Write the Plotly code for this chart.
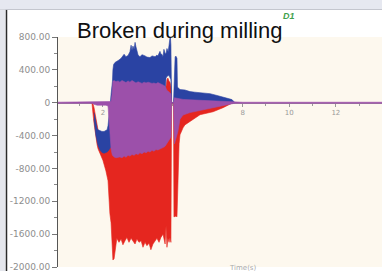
import plotly.graph_objects as go

# ---------------- data ----------------
# time axis in seconds, force values in N
y_ticks = [800, 400, 0, -400, -800, -1200, -1600, -2000]
y_tick_text = ["800.00", "400.00", "0", "-400.00", "-800.00", "-1200.00", "-1600.00", "-2000.00"]
x_ticks = [2, 4, 6, 8, 10, 12, 14]
x_tick_text = ["2", "4", "6", "8", "10", "12", "14"]

red_t = [1.53, 1.58, 1.62, 1.66, 1.70, 1.75, 1.79, 1.88, 2.00, 2.13, 2.22, 2.26, 2.30, 2.35, 2.39,
         2.43, 2.48, 2.52, 2.60, 2.69, 2.78, 2.86, 2.95, 3.03, 3.12, 3.21, 3.29, 3.38, 3.46, 3.55,
         3.64, 3.72, 3.81, 3.89, 3.98, 4.06, 4.15, 4.24, 4.32, 4.41, 4.49, 4.58, 4.67, 4.71, 4.75,
         4.79, 4.84, 4.88, 4.92, 4.95, 5.03, 5.05, 5.09, 5.14, 5.18, 5.22, 5.27, 5.31, 5.44, 5.52,
         5.74, 6.17, 6.73, 7.16, 7.58]
red_hi = [0, -20, -60, -130, -200, -270, -330, -380, -400, -400, -400, -400, -400, -400, -400,
          -400, -400, -400, -400, -400, -400, -400, -400, -400, -400, -400, -400, -400, -400, -400,
          -400, -400, -400, -400, -400, -400, -400, -400, -400, -400, -400, -300, 100, 200, 280,
          300, 260, 250, 200, 0, 0, -50, -50, -50, -50, -50, -45, -40, -30, -30,
          -20, -15, -10, -5, 0]
red_lo = [0, -150, -250, -350, -430, -510, -560, -620, -700, -830, -950, -1200, -1350, -1460, -1650,
          -1915, -1900, -1790, -1650, -1700, -1660, -1730, -1680, -1640, -1700, -1650, -1690, -1720, -1660, -1700,
          -1680, -1760, -1700, -1740, -1710, -1790, -1720, -1690, -1650, -1700, -1640, -1600, -1720, -1500, -1760,
          -1650, -1700, -1640, -1700, 0, 0, -1390, -1390, -1380, -1390, -880, -500, -390, -305, -270,
          -232, -146, -110, -60, 0]

blue_t = [1.62, 1.66, 1.70, 1.75, 1.79, 1.88, 1.96, 2.05, 2.13, 2.18, 2.22, 2.26, 2.30, 2.35, 2.39,
          2.41, 2.43, 2.46, 2.52, 2.60, 2.69, 2.78, 2.86, 2.91, 2.99, 3.08, 3.16, 3.21, 3.25, 3.29,
          3.34, 3.38, 3.42, 3.46, 3.51, 3.59, 3.68, 3.81, 3.89, 4.02, 4.11, 4.24, 4.32, 4.36, 4.41,
          4.45, 4.49, 4.53, 4.58, 4.62, 4.67, 4.71, 4.75, 4.80, 4.84, 4.88, 4.90, 4.92, 4.95, 5.03,
          5.07, 5.10, 5.14, 5.18, 5.20, 5.24, 5.31, 5.52, 5.74, 5.95, 6.17, 6.38, 6.60, 6.90, 7.24,
          7.54, 7.67]
blue_hi = [-120, -180, -260, -310, -330, -345, -350, -350, -340, -330, -280, -200, -60, 100, 200,
           260, 400, 465, 490, 500, 520, 540, 580, 590, 560, 575, 620, 700, 640, 690,
           650, 735, 680, 620, 580, 560, 585, 570, 555, 550, 570, 560, 580, 570, 600,
           625, 590, 590, 560, 650, 600, 600, 660, 620, 700, 795, 790, 700, 0, 0,
           450, 560, 565, 540, 190, 180, 160, 155, 135, 128, 122, 115, 110, 88, 62,
           38, 0]
blue_lo = [-200, -300, -400, -470, -520, -580, -605, -615, -610, -600, -590, -570, -560, -540, -520,
           -450, -450, -450, -450, -450, -450, -450, -450, -450, -450, -450, -450, -450, -450, -450,
           -450, -450, -450, -450, -450, -450, -450, -450, -450, -450, -450, -450, -450, -450, -450,
           -450, -450, -450, -450, -100, 150, 300, 320, 330, 330, 320, 300, 280, 0, 0,
           50, 40, 30, 20, 10, 5, 0, 0, 0, 0, 0, 0, 0, 0, 0,
           0, 0]

purple_t = [0.0, 1.53, 1.62, 1.75, 2.00, 2.13, 2.22, 2.26, 2.30, 2.35, 2.39, 2.41, 2.43, 2.48, 2.56,
            2.65, 2.73, 2.82, 2.91, 2.99, 3.08, 3.16, 3.25, 3.34, 3.42, 3.51, 3.59, 3.68, 3.77, 3.85,
            3.94, 4.02, 4.11, 4.19, 4.28, 4.36, 4.45, 4.54, 4.62, 4.67, 4.71, 4.75, 4.80, 4.84, 4.88,
            4.92, 4.95, 5.03, 5.07, 5.14, 5.22, 5.31, 5.44, 5.74, 6.17, 6.73, 7.24, 7.67, 8.0, 14.0]
purple_hi = [6, 6, 10, 10, 10, 12, 15, 15, 15, 15, 100, 200, 260, 270, 255,
             265, 250, 270, 260, 245, 265, 250, 270, 255, 240, 255, 245, 235, 250, 240,
             250, 245, 235, 240, 230, 245, 235, 225, 210, 200, 170, 150, 140, 130, 120,
             110, 0, 0, 60, 55, 50, 45, 40, 35, 30, 25, 15, 6, 6, 6]
purple_lo = [-6, -6, -20, -30, -30, -30, -40, -150, -350, -560, -620, -640, -650, -660, -670,
             -665, -660, -670, -650, -665, -640, -650, -630, -640, -620, -630, -610, -620, -600, -610,
             -590, -600, -580, -590, -570, -575, -560, -550, -540, -530, -520, -500, -480, -460, -440,
             -420, 0, 0, -500, -450, -350, -200, -150, -120, -90, -60, -30, -6, -6, -6]

# ---------------- styling ----------------
RED = "#e5261f"
BLUE = "#2a43a3"
PURPLE = "#9c50aa"
CREAM = "#fdf8ee"
W, H = 382, 271
ML, MR, MT, MB = 58, 0, 37, 4
PW, PH = W - ML - MR, H - MT - MB


def px_x(p):
    return (p - ML) / PW


def px_y(p):
    return (H - MB - p) / PH


def band(t, hi, lo, color, name):
    return go.Scatter(
        x=list(t) + list(t)[::-1],
        y=list(hi) + list(lo)[::-1],
        fill="toself", fillcolor=color, mode="lines",
        line=dict(color=color, width=0.6),
        hoverinfo="skip", name=name, showlegend=False,
    )


fig = go.Figure()
fig.add_trace(band(red_t, red_hi, red_lo, RED, "red"))
fig.add_trace(band(blue_t, blue_hi, blue_lo, BLUE, "blue"))
fig.add_trace(band(purple_t, purple_hi, purple_lo, PURPLE, "purple"))

fig.update_layout(
    width=W, height=H,
    margin=dict(l=ML, r=MR, t=MT, b=MB, pad=0),
    paper_bgcolor="white", plot_bgcolor=CREAM,
    showlegend=False,
    xaxis=dict(
        range=[0.073, 13.98], anchor="free", position=2000 / 2800,
        showline=True, linecolor="#9a8a9a", linewidth=1,
        showgrid=False, zeroline=False,
        tickmode="array", tickvals=x_ticks, ticktext=x_tick_text,
        ticks="outside", ticklen=3, tickcolor="#999", tickwidth=1,
        tickfont=dict(family="DejaVu Sans", size=7, color="#9a9a9a"),
        minor=dict(dtick=1, ticks="outside", ticklen=2, tickcolor="#999"),
        layer="below traces", ticklabeloverflow="allow",
    ),
    yaxis=dict(
        range=[-2000, 800],
        showline=True, linecolor="#555", linewidth=1,
        showgrid=False, zeroline=False,
        tickmode="array", tickvals=y_ticks, ticktext=y_tick_text,
        ticks="outside", ticklen=5, tickcolor="#777", tickwidth=1,
        tickfont=dict(family="DejaVu Sans", size=9, color="#8e8e8e"),
        minor=dict(dtick=200, ticks="outside", ticklen=3, tickcolor="#888"),
        ticklabeloverflow="allow",
    ),
    shapes=[
        dict(type="rect", xref="paper", yref="paper", x0=-0.25, x1=1.05,
             y0=px_y(9.5), y1=px_y(-5), fillcolor="#e6e8f0", line=dict(width=0), layer="above"),
        dict(type="line", xref="paper", yref="paper", x0=-0.25, x1=1.05,
             y0=px_y(9.5), y1=px_y(9.5), line=dict(color="#c4c6ce", width=1)),
        dict(type="rect", xref="paper", yref="paper", x0=-0.25, x1=px_x(5.5),
             y0=px_y(275), y1=px_y(9.5), fillcolor="#e4e6ec", line=dict(width=0), layer="above"),
        dict(type="line", xref="paper", yref="paper", x0=px_x(6.5), x1=px_x(6.5),
             y0=px_y(275), y1=px_y(10), line=dict(color="#2a2a2a", width=1.5)),
    ],
    annotations=[
        dict(text="Broken during milling", xref="paper", yref="paper",
             x=px_x(75), y=px_y(30.5), xanchor="left", yanchor="middle", showarrow=False,
             font=dict(family="Liberation Sans", size=22, color="#111")),
        dict(text="D1", xref="paper", yref="paper",
             x=px_x(289), y=px_y(16.5), xanchor="center", yanchor="middle", showarrow=False,
             font=dict(family="Liberation Sans", size=9, color="#3ea04c", weight="bold", style="italic")),
        dict(text="Time(s)", xref="paper", yref="paper",
             x=px_x(243), y=px_y(262), xanchor="center", yanchor="top", showarrow=False,
             font=dict(family="DejaVu Sans", size=7, color="#aaa")),
    ],
)

fig.write_html(
    "out.html",
    config={"displayModeBar": False, "staticPlot": True},
    post_script="document.body.style.margin='0';document.body.style.padding='0';"
                "document.documentElement.style.overflow='hidden';",
)
